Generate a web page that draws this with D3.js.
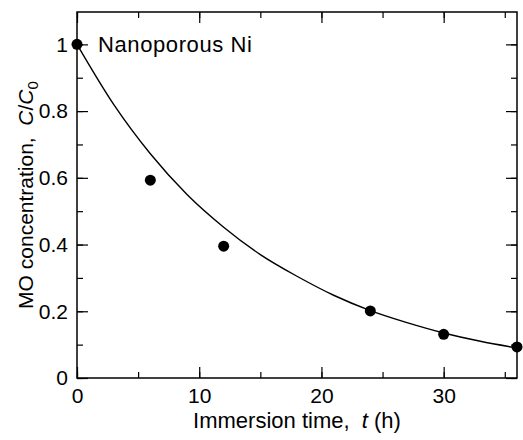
<!DOCTYPE html>
<html>
<head>
<meta charset="utf-8">
<script src="https://cdn.jsdelivr.net/npm/d3@7"></script>
<style>
body { margin: 0; background: #fff; }
text { font-family: "Liberation Sans", Arial, sans-serif; fill: #000; white-space: pre; }
</style>
</head>
<body>
<script>
// measured points
var timeH = [0, 6, 12, 24, 30, 36];
var concRatio = [1.0, 0.593, 0.395, 0.201, 0.131, 0.093];

// fitted curve
var fitTime = [0, 3, 6, 9, 12, 15, 18, 21, 24, 27, 30, 33, 36];
var fitConc = [1.0, 0.82, 0.672, 0.55, 0.452, 0.37, 0.305, 0.248, 0.202, 0.166, 0.135, 0.11, 0.09];

var xTicks = [0, 10, 20, 30];
var yTicks = [0, 0.2, 0.4, 0.6, 0.8, 1];

var width = 523, height = 440;
var margin = {left: 77, right: 6, top: 12, bottom: 62};

var svg = d3.select("body").append("svg")
	.attr("width", width)
	.attr("height", height);

var x = d3.scaleLinear().domain([0, 36]).range([margin.left, width - margin.right]);
var y = d3.scaleLinear().domain([0, 1.097]).range([height - margin.bottom, margin.top]);

var fs = 22, tfs = 21;

//minor ticks first
function minor(axis, vals, tr){
	svg.append("g").attr("transform", tr)
		.call(axis.tickValues(vals).tickSize(-6).tickFormat(""))
		.call(function(g){ g.select(".domain").remove(); g.selectAll("line").attr("stroke-width", 1.2); });
}
var xMinor = d3.range(0, 37, 5), yMinor = d3.range(0, 1.05, 0.1);
minor(d3.axisBottom(x), xMinor, "translate(0," + y(0) + ")");
minor(d3.axisTop(x), xMinor, "translate(0," + margin.top + ")");
minor(d3.axisLeft(y), yMinor, "translate(" + margin.left + ",0)");
minor(d3.axisRight(y), yMinor, "translate(" + x(36) + ",0)");

//major ticks
var gx = svg.append("g").attr("transform", "translate(0," + y(0) + ")")
	.call(d3.axisBottom(x).tickValues(xTicks).tickSizeInner(-11).tickSizeOuter(0).tickPadding(10));
var gy = svg.append("g").attr("transform", "translate(" + margin.left + ",0)")
	.call(d3.axisLeft(y).tickValues(yTicks).tickSizeInner(-11).tickSizeOuter(0).tickPadding(9)
		.tickFormat(function(d){ return d; }));
svg.append("g").attr("transform", "translate(0," + margin.top + ")")
	.call(d3.axisTop(x).tickValues(xTicks).tickSizeInner(-11).tickSizeOuter(0).tickFormat(""));
svg.append("g").attr("transform", "translate(" + x(36) + ",0)")
	.call(d3.axisRight(y).tickValues(yTicks).tickSizeInner(-11).tickSizeOuter(0).tickFormat(""));

svg.selectAll(".tick line").attr("stroke-width", 1.2);
svg.selectAll(".domain").remove();
svg.selectAll(".tick text").attr("font-size", tfs).style("font-family", "Liberation Sans, Arial, sans-serif");

//frame
svg.append("rect")
	.attr("x", x(0)).attr("y", y(1.097))
	.attr("width", x(36) - x(0)).attr("height", y(0) - y(1.097))
	.attr("fill", "none").attr("stroke", "#000").attr("stroke-width", 1.5);

//fit curve
var line = d3.line()
	.x(function(d, i){ return x(fitTime[i]); })
	.y(function(d){ return y(d); })
	.curve(d3.curveMonotoneX);
svg.append("path")
	.datum(fitConc)
	.attr("d", line)
	.attr("fill", "none").attr("stroke", "#000").attr("stroke-width", 1.4);

//points
svg.selectAll(".pt")
	.data(concRatio)
	.enter()
	.append("circle")
	.attr("class", "pt")
	.attr("cx", function(d, i){ return x(timeH[i]); })
	.attr("cy", function(d){ return y(d); })
	.attr("r", 5.5)
	.attr("fill", "#000");

//label
svg.append("text")
	.attr("x", 98).attr("y", 52)
	.attr("font-size", fs)
	.attr("letter-spacing", 0.6)
	.text("Nanoporous Ni");

//axis titles
var xt = svg.append("text")
	.attr("x", (x(0) + x(36)) / 2).attr("y", 428)
	.attr("text-anchor", "middle")
	.attr("font-size", fs);
xt.append("tspan").text("Immersion time,  ");
xt.append("tspan").attr("font-style", "italic").text("t");
xt.append("tspan").text(" (h)");

var yt = svg.append("text")
	.attr("transform", "translate(33," + ((y(0) + y(1.097)) / 2) + ") rotate(-90)")
	.attr("text-anchor", "middle")
	.attr("font-size", 21);
yt.append("tspan").text("MO concentration,  ");
yt.append("tspan").attr("font-style", "italic").text("C");
yt.append("tspan").text("/");
yt.append("tspan").attr("font-style", "italic").text("C");
yt.append("tspan").attr("font-size", 15).attr("dy", 5).text("0");
</script>
</body>
</html>
